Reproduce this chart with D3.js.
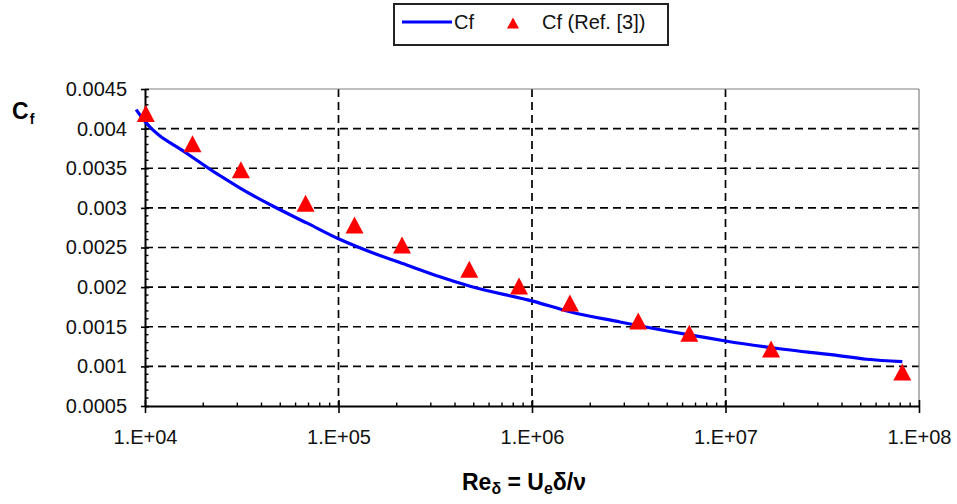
<!DOCTYPE html>
<html>
<head>
<meta charset="utf-8">
<script src="https://cdn.jsdelivr.net/npm/d3@7/dist/d3.min.js"></script>
<style>
  html, body { margin: 0; padding: 0; background: #fff; }
  svg { display: block; font-family: "Liberation Sans", Arial, sans-serif; }
</style>
</head>
<body>
<svg id="chart" width="957" height="504"></svg>
<script>
// Skin-friction coefficient versus Reynolds number based on boundary-layer thickness
const lineRe = [9.0e3, 1.0e4, 1.64e4, 3.1e4, 4.6e4, 6.85e4, 1.02e5, 1.51e5, 2.25e5, 3.34e5,
                4.79e5, 1.02e6, 1.57e6, 2.85e6, 5.17e6, 7.4e6, 1.0e7, 1.99e7, 3.6e7, 5.36e7, 8.2e7];
const lineCf = [0.00424, 0.00409, 0.00369, 0.00325, 0.00302, 0.00281, 0.00260, 0.00243, 0.00228, 0.00213,
                0.00201, 0.00182, 0.00169, 0.00156, 0.00144, 0.001375, 0.00132, 0.001216, 0.001144, 0.00109, 0.00106];

const refRe = [1.01e4, 1.76e4, 3.13e4, 6.76e4, 1.21e5, 2.13e5, 4.74e5, 8.57e5, 1.57e6, 3.54e6, 6.5e6, 1.72e7, 8.2e7];
const refCf = [0.00419, 0.00381, 0.00348, 0.003057, 0.002785, 0.00253, 0.002224, 0.002015, 0.00180, 0.001573, 0.001418, 0.00122, 0.00093];

const xTicks = [1e4, 1e5, 1e6, 1e7, 1e8];
const xTickLabels = ["1.E+04", "1.E+05", "1.E+06", "1.E+07", "1.E+08"];
const yTicks = [0.0005, 0.001, 0.0015, 0.002, 0.0025, 0.003, 0.0035, 0.004, 0.0045];
const yTickLabels = ["0.0005", "0.001", "0.0015", "0.002", "0.0025", "0.003", "0.0035", "0.004", "0.0045"];

const seriesNames = ["Cf", "Cf (Ref. [3])"];

const svg = d3.select("#chart");
const plot = { left: 145, right: 919, top: 89, bottom: 406 };

const x = d3.scaleLog().domain([1e4, 1e8]).range([plot.left, plot.right]);
const y = d3.scaleLinear().domain([0.0005, 0.0045]).range([plot.bottom, plot.top]);

// Gridlines (dashed)
const grid = svg.append("g");
grid.selectAll("line.h").data(yTicks.slice(1, -1)).enter().append("line")
  .attr("x1", plot.left).attr("x2", plot.right)
  .attr("y1", d => y(d)).attr("y2", d => y(d))
  .attr("stroke", "#000").attr("stroke-width", 1.7).attr("stroke-dasharray", "8,5");
grid.selectAll("line.v").data(xTicks.slice(1, -1)).enter().append("line")
  .attr("x1", d => x(d)).attr("x2", d => x(d))
  .attr("y1", plot.top).attr("y2", plot.bottom)
  .attr("stroke", "#000").attr("stroke-width", 1.7).attr("stroke-dasharray", "8,5");

// Plot frame: grey top and right edges
svg.append("line").attr("x1", plot.left).attr("x2", plot.right).attr("y1", plot.top).attr("y2", plot.top)
  .attr("stroke", "#808080").attr("stroke-width", 1.2);
svg.append("line").attr("x1", plot.right).attr("x2", plot.right).attr("y1", plot.top).attr("y2", plot.bottom)
  .attr("stroke", "#808080").attr("stroke-width", 1.2);

// Minor ticks
const xMinor = [];
for (let e = 4; e < 8; e++) for (let k = 2; k <= 9; k++) xMinor.push(k * Math.pow(10, e));
svg.append("g").selectAll("line").data(xMinor).enter().append("line")
  .attr("x1", d => x(d)).attr("x2", d => x(d))
  .attr("y1", plot.bottom).attr("y2", plot.bottom - 3.5)
  .attr("stroke", "#000").attr("stroke-width", 1.4);
const yMinor = d3.range(6, 45).map(i => i / 10000).filter(v => Math.round(v * 10000) % 5 !== 0);
svg.append("g").selectAll("line").data(yMinor).enter().append("line")
  .attr("x1", plot.left).attr("x2", plot.left + 3.5)
  .attr("y1", d => y(d)).attr("y2", d => y(d))
  .attr("stroke", "#000").attr("stroke-width", 1.4);

// Axes
const xAxis = d3.axisBottom(x).tickValues(xTicks).tickFormat((d, i) => xTickLabels[i])
  .tickSizeInner(7).tickSizeOuter(0).tickPadding(17);
const gx = svg.append("g").attr("transform", `translate(0,${plot.bottom})`).call(xAxis);
gx.select(".domain").attr("stroke", "#000").attr("stroke-width", 2);
gx.selectAll(".tick line").attr("stroke", "#000").attr("stroke-width", 1.6).attr("y1", -6);
gx.selectAll(".tick text").attr("font-size", 20).attr("fill", "#111")
  .attr("font-family", "'Liberation Sans', Arial, sans-serif");

const yAxis = d3.axisLeft(y).tickValues(yTicks).tickFormat((d, i) => yTickLabels[i])
  .tickSizeInner(4).tickSizeOuter(0).tickPadding(14);
const gy = svg.append("g").attr("transform", `translate(${plot.left},0)`).call(yAxis);
gy.select(".domain").attr("stroke", "#000").attr("stroke-width", 2);
gy.selectAll(".tick line").attr("stroke", "#000").attr("stroke-width", 1.6).attr("x2", 4).attr("x1", -4);
gy.selectAll(".tick text").attr("font-size", 20).attr("fill", "#111")
  .attr("font-family", "'Liberation Sans', Arial, sans-serif");

// Model curve
const lineData = lineRe.map((r, i) => [r, lineCf[i]]);
svg.append("path").datum(lineData)
  .attr("fill", "none").attr("stroke", "#0000ff").attr("stroke-width", 3.2)
  .attr("stroke-linejoin", "round")
  .attr("d", d3.line().x(d => x(d[0])).y(d => y(d[1])).curve(d3.curveMonotoneX));

// Reference data: red triangles
const tri = (w, h) => `M0,${-h / 2}L${w / 2},${h / 2}L${-w / 2},${h / 2}Z`;
svg.append("g").selectAll("path").data(refRe.map((r, i) => [r, refCf[i]])).enter().append("path")
  .attr("transform", d => `translate(${x(d[0])},${y(d[1])})`)
  .attr("d", tri(18, 17)).attr("fill", "#ff0000");

// Axis titles
const yt = svg.append("text").attr("x", 12).attr("y", 119)
  .attr("font-weight", "bold").attr("font-size", 23).attr("fill", "#000");
yt.append("tspan").text("C");
yt.append("tspan").attr("font-size", 14).attr("dy", 5).attr("dx", 1).text("f");

const xt = svg.append("text").attr("x", 462).attr("y", 490)
  .attr("font-weight", "bold").attr("font-size", 23).attr("fill", "#000");
xt.append("tspan").text("Re");
xt.append("tspan").attr("font-size", 16).attr("dy", 4).text("δ");
xt.append("tspan").attr("dy", -4).text(" = U");
xt.append("tspan").attr("font-size", 16).attr("dy", 4).text("e");
xt.append("tspan").attr("dy", -4).text("δ/ν");

// Legend
const lg = svg.append("g");
lg.append("rect").attr("x", 394).attr("y", 4).attr("width", 274).attr("height", 41)
  .attr("fill", "#fff").attr("stroke", "#222").attr("stroke-width", 2);
lg.append("line").attr("x1", 402).attr("x2", 452).attr("y1", 22).attr("y2", 22)
  .attr("stroke", "#0000ff").attr("stroke-width", 3.2);
lg.append("text").attr("x", 454).attr("y", 29).attr("font-size", 20).attr("fill", "#111").text(seriesNames[0]);
lg.append("path").attr("transform", "translate(513,23)").attr("d", tri(12, 11)).attr("fill", "#ff0000");
lg.append("text").attr("x", 542).attr("y", 29).attr("font-size", 20).attr("fill", "#111").text(seriesNames[1]);
</script>
</body>
</html>
